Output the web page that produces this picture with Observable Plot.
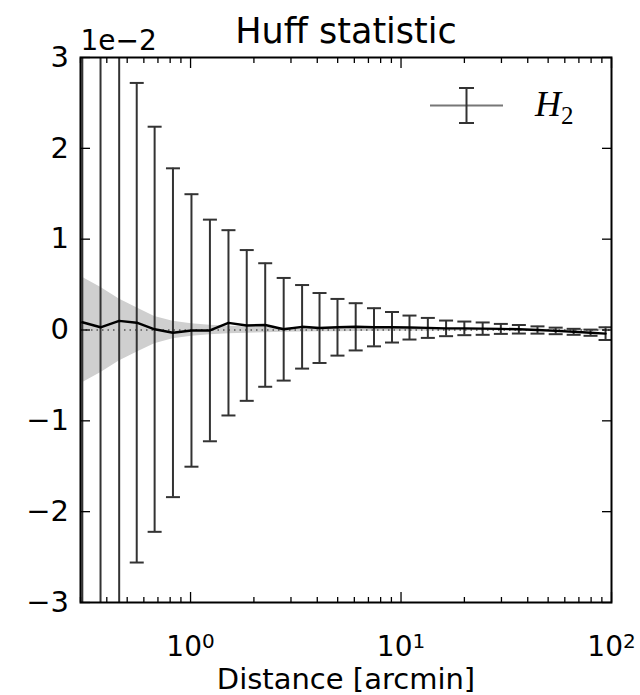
<!DOCTYPE html>
<html><head><meta charset="utf-8">
<script src="https://cdn.jsdelivr.net/npm/d3@7"></script>
<script src="https://cdn.jsdelivr.net/npm/@observablehq/plot@0.6"></script>
<style>
html,body{margin:0;padding:0;background:#fff;}
#chart svg{display:block;}
</style>
</head><body><div id="chart"></div>
<script>
// ---- data (H2 values in units of 1e-2) ----
const distance = [0.306, 0.3735, 0.458, 0.555, 0.675, 0.825, 1.01, 1.236, 1.514, 1.849,
                  2.263, 2.77, 3.388, 4.10, 4.99, 6.09, 7.44, 9.06, 10.97, 13.41,
                  16.37, 19.99, 24.43, 29.8, 36.3, 44.5, 54.3, 66.1, 79.5, 93.7];
const h2Mean = [0.085, 0.03, 0.10, 0.08, 0.008, -0.03, -0.005, -0.005, 0.079, 0.05,
                0.055, 0.008, 0.035, 0.022, 0.03, 0.035, 0.03, 0.03, 0.027, 0.023,
                0.018, 0.018, 0.015, 0.012, 0.008, 0.0, -0.01, -0.02, -0.03, -0.04];
const h2Err = [4.5, 3.8, 3.2, 2.64, 2.23, 1.81, 1.50, 1.22, 1.02, 0.83,
               0.68, 0.565, 0.46, 0.385, 0.312, 0.26, 0.21, 0.168, 0.132, 0.11,
               0.086, 0.075, 0.068, 0.055, 0.047, 0.04, 0.036, 0.033, 0.034, 0.07];
const bandErr = [0.58, 0.47, 0.34, 0.245, 0.15, 0.095, 0.068, 0.052, 0.042, 0.035,
                 0.03, 0.026, 0.023, 0.02, 0.018, 0.016, 0.014, 0.013, 0.012, 0.011,
                 0.01, 0.009, 0.009, 0.008, 0.008, 0.008, 0.007, 0.007, 0.007, 0.007];
const yTicks = [-3, -2, -1, 0, 1, 2, 3];
const xMajorTicks = [1, 10, 100];
const xMinorTicks = [0.3, 0.4, 0.5, 0.6, 0.7, 0.8, 0.9, 2, 3, 4, 5, 6, 7, 8, 9,
                     20, 30, 40, 50, 60, 70, 80, 90];
const titleText = "Huff statistic";
const xLabelText = "Distance [arcmin]";
const offsetText = "1e\u22122";
const legendMain = "H";
const legendSub = "2";

const rows = distance.map((d, i) => ({
  d, m: h2Mean[i], lo: h2Mean[i] - h2Err[i], hi: h2Mean[i] + h2Err[i],
  bl: -bandErr[i], bh: bandErr[i]
}));

const capSymbol = {draw(ctx) { ctx.moveTo(-7, 0); ctx.lineTo(7, 0); }};
const barColor = "#333";

const chart = Plot.plot({
  width: 640, height: 695,
  marginLeft: 80, marginRight: 29, marginTop: 57, marginBottom: 93,
  style: {fontFamily: "DejaVu Sans", fontSize: "28px", background: "#fff", color: "#000"},
  x: {type: "log", domain: [0.3, 100], axis: null},
  y: {domain: [-3, 3], axis: null},
  marks: [
    Plot.areaY(rows, {x: "d", y1: "bl", y2: "bh", fill: "#cfcfcf"}),
    Plot.ruleY([0], {stroke: "#555", strokeWidth: 1.5, strokeDasharray: "1.5,4"}),
    Plot.ruleX(rows, {x: "d", y1: "lo", y2: "hi", stroke: barColor, strokeWidth: 2, clip: true}),
    Plot.dot(rows, {x: "d", y: "hi", symbol: capSymbol, r: 7, stroke: barColor, strokeWidth: 2, fill: "none", clip: true}),
    Plot.dot(rows, {x: "d", y: "lo", symbol: capSymbol, r: 7, stroke: barColor, strokeWidth: 2, fill: "none", clip: true}),
    Plot.line(rows, {x: "d", y: "m", stroke: "#000", strokeWidth: 2.4}),
    Plot.frame({stroke: "#000", strokeWidth: 2}),
    Plot.axisX(xMajorTicks, {anchor: "bottom", tickSize: -10, tickPadding: 44, strokeWidth: 1.3,
      tickFormat: d => "10^" + Math.round(Math.log10(d)), fontSize: 28, label: null}),
    Plot.axisX(xMinorTicks, {anchor: "bottom", tickSize: -5, strokeWidth: 1.3, fill: "none", label: null}),
    Plot.axisX(xMajorTicks, {anchor: "top", tickSize: -10, strokeWidth: 1.3, fill: "none", label: null}),
    Plot.axisX(xMinorTicks, {anchor: "top", tickSize: -5, strokeWidth: 1.3, fill: "none", label: null}),
    Plot.axisY(yTicks, {anchor: "left", tickSize: -10, tickPadding: 21.5, strokeWidth: 1.3,
      tickFormat: d => d < 0 ? "\u2212" + (-d) : String(d), fontSize: 29, label: null}),
    Plot.axisY(yTicks, {anchor: "right", tickSize: -10, strokeWidth: 1.3, fill: "none", label: null}),
    Plot.text([titleText], {text: d => d, frameAnchor: "top", dy: -15, lineAnchor: "bottom", fontSize: 35}),
    Plot.text([offsetText], {text: d => d, frameAnchor: "top-left", textAnchor: "start", dy: -8, lineAnchor: "bottom", fontSize: 28}),
    Plot.text([xLabelText], {text: d => d, frameAnchor: "bottom", dy: 86, lineAnchor: "bottom", fontSize: 29})
  ]
});

document.getElementById("chart").appendChild(chart);

// superscript exponents on the x tick labels
d3.select(chart).selectAll('g[aria-label="x-axis tick label"] text').each(function() {
  const t = d3.select(this);
  const s = t.text();
  if (!s.includes("^")) return;
  const [base, exp] = s.split("^");
  t.text(null);
  t.append("tspan").text(base);
  t.append("tspan").attr("dy", "-0.42em").attr("font-size", "20px").text(exp);
});

// legend
const svg = d3.select(chart);
const lg = svg.append("g").attr("class", "legend");
lg.append("line").attr("x1", 430).attr("x2", 503).attr("y1", 105.5).attr("y2", 105.5)
  .attr("stroke", "#777").attr("stroke-width", 2);
lg.append("line").attr("x1", 466.5).attr("x2", 466.5).attr("y1", 88).attr("y2", 123)
  .attr("stroke", barColor).attr("stroke-width", 2);
lg.append("line").attr("x1", 459).attr("x2", 474).attr("y1", 88).attr("y2", 88)
  .attr("stroke", barColor).attr("stroke-width", 2);
lg.append("line").attr("x1", 459).attr("x2", 474).attr("y1", 123).attr("y2", 123)
  .attr("stroke", barColor).attr("stroke-width", 2);
const lt = lg.append("text").attr("x", 535).attr("y", 115.5).attr("text-anchor", "start")
  .attr("font-family", "Liberation Serif").attr("font-style", "italic").attr("font-size", 36)
  .attr("fill", "#000");
lt.append("tspan").text(legendMain);
lt.append("tspan").attr("dy", 8).attr("font-size", 25).attr("font-style", "normal").text(legendSub);
</script>
</body></html>
